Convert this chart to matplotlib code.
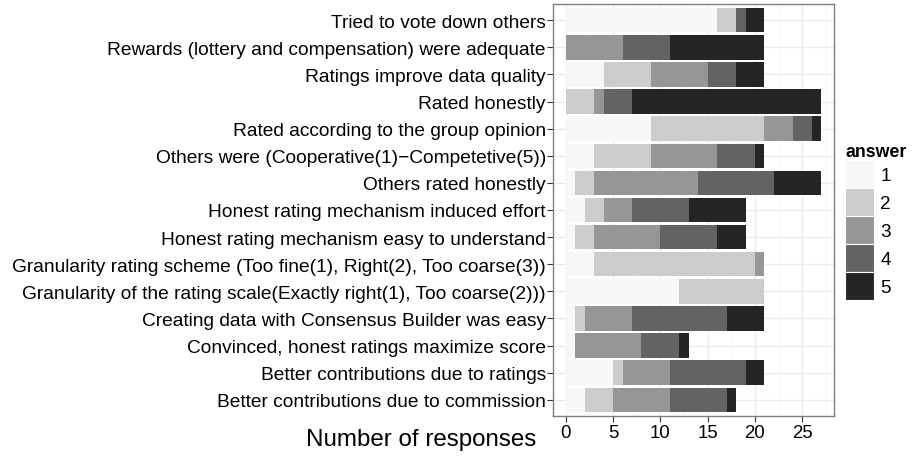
import numpy as np
import matplotlib
matplotlib.use("Agg")
import matplotlib.pyplot as plt
from matplotlib.patches import Patch
from matplotlib.ticker import MultipleLocator

# Questions, top to bottom as shown
questions = [
    "Tried to vote down others",
    "Rewards (lottery and compensation) were adequate",
    "Ratings improve data quality",
    "Rated honestly",
    "Rated according to the group opinion",
    "Others were (Cooperative(1)\u2212Competetive(5))",
    "Others rated honestly",
    "Honest rating mechanism induced effort",
    "Honest rating mechanism easy to understand",
    "Granularity rating scheme (Too fine(1), Right(2), Too coarse(3))",
    "Granularity of the rating scale(Exactly right(1), Too coarse(2)))",
    "Creating data with Consensus Builder was easy",
    "Convinced, honest ratings maximize score",
    "Better contributions due to ratings",
    "Better contributions due to commission",
]

# Number of responses per answer level (1..5), same order as questions
answer_1 = [16, 0, 4, 0, 9, 3, 1, 2, 1, 3, 12, 1, 1, 5, 2]
answer_2 = [2, 0, 5, 3, 12, 6, 2, 2, 2, 17, 9, 1, 0, 1, 3]
answer_3 = [0, 6, 6, 1, 3, 7, 11, 3, 7, 1, 0, 5, 7, 5, 6]
answer_4 = [1, 5, 3, 3, 2, 4, 8, 6, 6, 0, 0, 10, 4, 8, 6]
answer_5 = [2, 10, 3, 20, 1, 1, 5, 6, 3, 0, 0, 4, 1, 2, 1]

levels = ["1", "2", "3", "4", "5"]
colors = ["#F7F7F7", "#CCCCCC", "#969696", "#636363", "#252525"]

counts = np.array([answer_1, answer_2, answer_3, answer_4, answer_5])

FONT = ["Liberation Sans", "DejaVu Sans"]
FS = 13.8
plt.rcParams["font.family"] = FONT

fig = plt.figure(figsize=(9.15, 4.6), dpi=100)
ax = fig.add_axes([553 / 915, 1 - 417 / 460, 281 / 915, 412 / 460])

y = np.arange(1, len(questions) + 1)
left = np.zeros(len(questions))
for lvl, col, vals in zip(levels, colors, counts):
    ax.barh(y, vals, left=left, height=0.9, color=col, edgecolor="none",
            label=lvl, zorder=3)
    left += vals

total_max = left.max()
ax.set_xlim(-0.05 * total_max, total_max * 1.05)
ax.set_ylim(len(questions) + 0.6, 0.4)

# ggplot theme_bw look
ax.xaxis.set_major_locator(MultipleLocator(5))
ax.xaxis.set_minor_locator(MultipleLocator(2.5))
ax.grid(which="major", color="#EBEBEB", linewidth=1.0, zorder=0)
ax.grid(which="minor", axis="x", color="#F5F5F5", linewidth=0.6, zorder=0)
for s in ax.spines.values():
    s.set_color("#7F7F7F")
    s.set_linewidth(1.0)

ax.set_yticks(y)
ax.set_yticklabels(questions, fontsize=FS, color="black")
ax.tick_params(axis="x", which="major", labelsize=13.4, length=4.3,
               color="#333333", pad=1.5)
ax.tick_params(axis="y", length=4.3, color="#333333", pad=0.8)
ax.tick_params(which="minor", length=0)

fig.text(421 / 915, 1 - 440 / 460, "Number of responses", fontsize=17.4,
         ha="center", va="center")

handles = [Patch(facecolor=c, edgecolor="white", linewidth=0.8) for c in colors]
leg = fig.legend(handles, levels, loc="upper left",
                 bbox_to_anchor=(832 / 915, 1 - 131 / 460),
                 title="answer", frameon=False,
                 handlelength=1.5, handleheight=1.9, labelspacing=0.0,
                 handletextpad=0.35, borderpad=0.2,
                 prop={"size": 13.6})
leg.get_title().set_fontweight("bold")
leg.get_title().set_fontsize(12.8)
leg._legend_box.align = "left"

fig.savefig("out.png", dpi=100)
